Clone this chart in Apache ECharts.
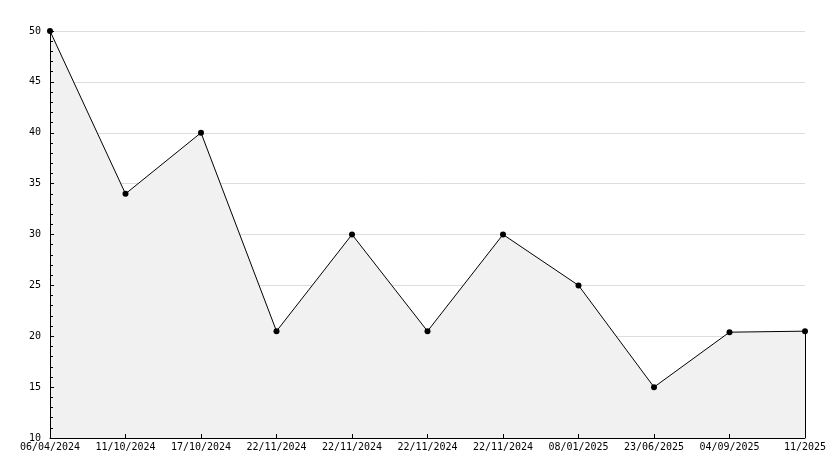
<!DOCTYPE html>
<html>
<head>
<meta charset="utf-8">
<script src="https://cdn.jsdelivr.net/npm/echarts@6/dist/echarts.min.js"></script>
<style>html,body{margin:0;padding:0;background:#fff}#c{width:834px;height:468px}</style>
</head>
<body>
<div id="c"></div>
<script>
var categories = ["06/04/2024","11/10/2024","17/10/2024","22/11/2024","22/11/2024","22/11/2024","22/11/2024","08/01/2025","23/06/2025","04/09/2025","11/2025"];
var values = [50, 34, 40, 20.5, 30, 20.5, 30, 25, 15, 20.4, 20.5];
var yMin = 10, yMax = 50, yStep = 5;

var font = "DejaVu Sans Mono";
var chart = echarts.init(document.getElementById('c'), null, {renderer: 'canvas'});
var lastIdx = values.length - 1;
chart.setOption({
  animation: false,
  backgroundColor: '#ffffff',
  grid: {left: 50, right: 29, top: 31, bottom: 30, containLabel: false},
  xAxis: {
    type: 'category',
    data: categories,
    boundaryGap: false,
    z: 10,
    axisLine: {lineStyle: {color: '#000', width: 1}},
    axisTick: {inside: true, length: 4, alignWithLabel: true, lineStyle: {color: '#000'}},
    axisLabel: {interval: 0, color: '#000', fontFamily: font, fontSize: 10, margin: 4},
    splitLine: {show: false}
  },
  yAxis: [{
    type: 'value',
    min: yMin, max: yMax, interval: yStep,
    z: 0,
    axisLine: {show: false},
    axisTick: {show: false},
    axisLabel: {show: false},
    splitLine: {show: true, lineStyle: {color: '#dddddd', width: 1}}
  }, {
    type: 'value',
    position: 'left',
    min: yMin, max: yMax, interval: yStep,
    z: 10,
    axisLine: {show: true, lineStyle: {color: '#000', width: 1}},
    axisTick: {show: true, inside: true, length: 4, lineStyle: {color: '#000'}},
    minorTick: {show: true, splitNumber: 5, length: 3, lineStyle: {color: '#000'}},
    axisLabel: {color: '#000', fontFamily: font, fontSize: 10, margin: 9},
    splitLine: {show: false}
  }],
  series: [{
    type: 'line',
    data: values,
    yAxisIndex: 0,
    symbol: 'circle',
    symbolSize: 6,
    itemStyle: {color: '#000'},
    lineStyle: {color: '#000', width: 1},
    areaStyle: {color: '#f1f1f1', opacity: 1, origin: 'start'},
    markLine: {
      silent: true,
      symbol: 'none',
      label: {show: false},
      lineStyle: {color: '#000', width: 1, type: 'solid'},
      data: [[{coord: [lastIdx, yMin]}, {coord: [lastIdx, values[lastIdx]]}]]
    }
  }]
});
</script>
</body>
</html>
